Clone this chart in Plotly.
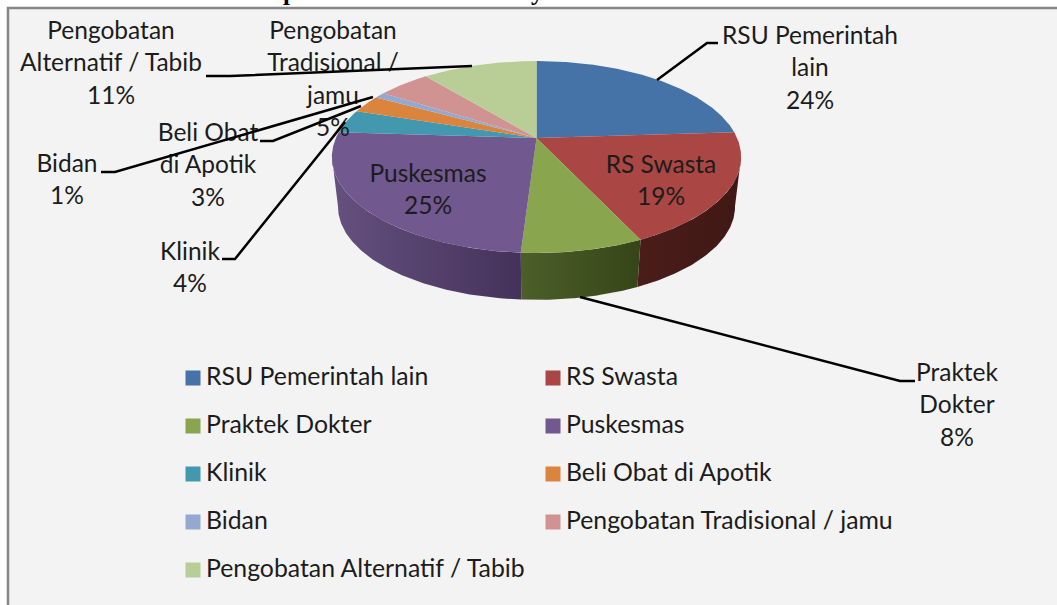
import math
import plotly.graph_objects as go

# ---------- data ----------
categories = ["RSU Pemerintah lain", "RS Swasta", "Praktek Dokter", "Puskesmas", "Klinik",
              "Beli Obat di Apotik", "Bidan", "Pengobatan Tradisional / jamu",
              "Pengobatan Alternatif / Tabib"]
values = [24, 19, 8, 25, 4, 3, 1, 5, 11]
top_colors = ["#4572A7", "#AA4643", "#89A54E", "#71588F", "#4198AF",
              "#DB843D", "#93A9CF", "#D19392", "#B9CD96"]
wall_left = ["#2f4e73", "#4a1d1b", "#4c5f2a", "#65507f", "#2c6777",
             "#97592a", "#65748f", "#905f5e", "#7f8d67"]
wall_right = ["#2f4e73", "#3f1814", "#364518", "#45325a", "#2c6777",
              "#97592a", "#65748f", "#905f5e", "#7f8d67"]
label_lines = [["RSU Pemerintah", "lain"], ["RS Swasta"], ["Praktek", "Dokter"], ["Puskesmas"],
               ["Klinik"], ["Beli Obat", "di Apotik"], ["Bidan"],
               ["Pengobatan", "Tradisional /", "jamu"], ["Pengobatan", "Alternatif / Tabib"]]

# ---------- layout constants (pixels) ----------
W, H = 1057, 605
FONT = "Lato"
TXT = "#1c1c1c"
label_x = [810, 661, 957, 428, 190, 208, 67, 333, 111]
label_y = [38, 167, 375, 176, 254, 135, 166, 33, 33]
line_step = 32.3
leaders = {0: [(657, 80), (707, 43), (718, 43)],
           2: [(580, 297), (900, 381), (915, 381)],
           4: [(345, 122), (235, 259), (222, 259)],
           5: [(361, 106), (273, 141), (260, 141)],
           6: [(373, 97), (115, 172), (101, 172)],
           8: [(472, 66), (230, 76), (206, 76)]}
legend_cols = [196, 556]
legend_rows = [378, 426, 474, 522, 570]
title_fragments = [("p", 281), ("y", 537)]

# projected-disc parameters
CX, K = 536.5, 0.198
TOP = dict(cy=138, A=92.2, B=200.6)
BOT = dict(cy=188.4, A=89.4, B=194.6)
VISIBLE = (101.0, 259.0)


def project(deg, d):
    t = math.radians(deg)
    u, v = math.sin(t), -math.cos(t)
    w = 1 - K * v
    return CX + d["B"] * u / w, d["cy"] + d["A"] * v / w


def arc(a0, a1, d):
    n = max(2, int(abs(a1 - a0) * 2))
    return [project(a0 + (a1 - a0) * i / n, d) for i in range(n + 1)]


total = sum(values)
edges = [0.0]
for val in values:
    edges.append(edges[-1] + val / total * 360)

fig = go.Figure()


def poly(points, color, **kw):
    xs = [p[0] for p in points] + [points[0][0]]
    ys = [p[1] for p in points] + [points[0][1]]
    fig.add_trace(go.Scatter(x=xs, y=ys, mode="lines", fill="toself", fillcolor=color,
                             line=dict(width=0, color=color), hoverinfo="skip",
                             showlegend=False, **kw))


# side wall
for i in range(len(values)):
    a0, a1 = max(edges[i], VISIBLE[0]), min(edges[i + 1], VISIBLE[1])
    if a1 <= a0:
        continue
    pts = arc(a0, a1, TOP) + arc(a1, a0, BOT)
    poly(pts, wall_left[i])
    fig.data[-1].fillcolor = None
    fig.data[-1].fillgradient = dict(type="horizontal",
                                     colorscale=[[0, wall_left[i]], [1, wall_right[i]]])

# top face
for i in range(len(values)):
    pts = [(CX, TOP["cy"])] + arc(edges[i], edges[i + 1], TOP)
    poly(pts, top_colors[i])

# data labels (below the leader lines, as in the picture)
for i, lines in enumerate(label_lines):
    texts = lines + [f"{values[i]}%"]
    fig.add_trace(go.Scatter(x=[label_x[i]] * len(texts),
                             y=[label_y[i] + line_step * j for j in range(len(texts))],
                             mode="text", text=texts, textposition="middle center",
                             textfont=dict(family=FONT, size=24.5, color=TXT),
                             hoverinfo="skip", showlegend=False))

# leader lines
for i, pts in leaders.items():
    fig.add_trace(go.Scatter(x=[p[0] for p in pts], y=[p[1] for p in pts], mode="lines",
                             line=dict(color="#000000", width=2.5), hoverinfo="skip",
                             showlegend=False))

# legend
for i, name in enumerate(categories):
    col, row = i % 2, i // 2
    fig.add_trace(go.Scatter(x=[legend_cols[col] - 3], y=[legend_rows[row]], mode="markers",
                             marker=dict(symbol="square", size=15, color=top_colors[i]),
                             hoverinfo="skip", showlegend=False))
    fig.add_trace(go.Scatter(x=[legend_cols[col] + 10], y=[legend_rows[row] + 1], mode="text",
                             text=[name], textposition="middle right",
                             textfont=dict(family=FONT, size=24.8, color=TXT),
                             hoverinfo="skip", showlegend=False))

fig.update_layout(
    width=W, height=H, autosize=False,
    margin=dict(l=0, r=0, t=0, b=0),
    paper_bgcolor="#ffffff", plot_bgcolor="#ffffff",
    xaxis=dict(range=[0, W], visible=False, fixedrange=True),
    yaxis=dict(range=[H, 0], visible=False, fixedrange=True),
    shapes=[dict(type="rect", xref="x", yref="y", x0=8, y0=8, x1=W + 20, y1=H + 20,
                 line=dict(color="#868686", width=2.5), fillcolor="#f3f3f3", layer="below")],
    annotations=[dict(x=fx / W, y=1 + 9 / H, xref="paper", yref="paper", text=f"<b>{ch}</b>",
                      showarrow=False, yanchor="middle",
                      font=dict(family="Liberation Serif", size=25, color="#000000"))
                 for ch, fx in title_fragments],
    showlegend=False,
)
fig.write_html("out.html", config=dict(displayModeBar=False),
               post_script="document.body.style.margin='0';document.body.style.overflow='hidden';"
                           "window.dispatchEvent(new Event('resize'));")
